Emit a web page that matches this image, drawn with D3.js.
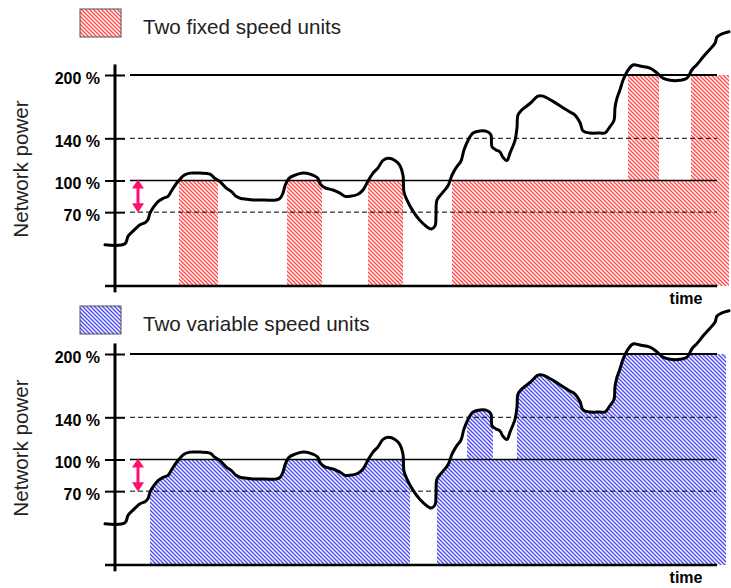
<!DOCTYPE html>
<meta charset="utf-8">
<style>
body { margin: 0; background: #fff; }
text { font-family: "Liberation Sans", Arial, sans-serif; }
.tick text { font-weight: bold; font-size: 16px; fill: #000; }
.grid-dash { stroke: #000; stroke-width: 1; stroke-dasharray: 5,3; }
.curve { fill: none; stroke: #000; stroke-width: 3; stroke-linejoin: round; stroke-linecap: round; }
.legend-text { font-size: 20.6px; fill: #222; }
.axis-title { font-size: 20.6px; fill: #222; }
.time { font-size: 16px; font-weight: bold; fill: #000; }
</style>
<svg id="chart" width="731" height="588"></svg>
<script src="https://d3js.org/d3.v7.min.js"></script>
<script>
// network demand curve (time units, % of one unit)
var curveT = [-5, 15, 18, 23, 30, 35, 38, 40, 43, 48, 53, 58, 62, 68, 74, 80, 90, 100, 105, 110,
  116, 122, 126, 131, 135, 143, 155, 166, 170, 173, 175, 179, 185, 193, 200, 208, 210, 215, 223, 230,
  235, 240, 248, 253, 258, 263, 268, 273, 278, 285, 290, 293, 294, 297, 303, 310, 317, 321, 325, 326,
  327, 333, 338, 342, 346, 351, 354, 358, 363, 370, 378, 381, 382, 386, 390, 393, 397, 400, 405, 407,
  408, 412, 420, 428, 433, 443, 453, 460, 465, 470, 473, 480, 490, 495, 500, 504, 505, 507, 510, 513,
  517, 523, 530, 540, 547, 553, 560, 570, 577, 582, 587, 593, 600, 605, 607, 612, 619];
var curveP = [39, 40, 47, 52, 58, 60, 63, 69, 74, 80, 83, 85, 91, 99, 105, 107, 107, 106, 102, 99,
  93, 89, 85, 83, 82.5, 81.5, 81.5, 81.5, 83, 88, 95, 102, 105, 107, 106, 102, 97, 93, 91, 88,
  85, 85, 87, 91, 99.5, 107, 112, 119, 121, 119, 114, 105, 89, 81.5, 71, 62, 56, 54, 57, 67,
  81.5, 89, 95, 105, 112, 118.5, 129, 138, 145, 147, 146, 143, 132, 129, 127, 122, 119, 126, 138, 150,
  162, 167, 173, 180, 180, 175, 169, 165, 162, 155, 147, 145, 145, 145, 151, 157, 169, 178, 186, 195,
  203, 209.5, 208.5, 206.5, 202, 197, 195, 195, 197, 205, 210, 217, 224.5, 230, 236, 239, 241];

var yTicks = [200, 140, 100, 70];
var solidLevels = [200, 100];
var dashedLevels = [140, 70];

// fixed speed units: on/off times
var unit1On = [69, 177, 258, 342];
var unit1Off = [108, 212, 293, 619];
var unit2On = [518, 581];
var unit2Off = [549, 619];

// variable speed units: running periods and output cap
var varStart = [40, 327, 357, 383, 407];
var varEnd = [300, 357, 383, 407, 616];
var varCap = [100, 100, 300, 100, 200];

var svg = d3.select("#chart");
var defs = svg.append("defs");

function hatch(id, color) {
  var p = defs.append("pattern")
    .attr("id", id)
    .attr("patternUnits", "userSpaceOnUse")
    .attr("width", 4).attr("height", 4);
  p.append("rect").attr("width", 4).attr("height", 4).attr("fill", "#fff");
  p.append("path")
    .attr("d", "M-1,-1L5,5M3,-1L5,1M-1,3L1,5")
    .attr("stroke", color)
    .attr("stroke-width", 1.5);
}
hatch("hatchRed", "#ff4f4f");
hatch("hatchBlue", "#5252ee");

var x = d3.scaleLinear().domain([-5, 619]).range([105, 729]);
var gridStart = 20, gridEnd = 607;
var curveData = curveT.map(function(t, i) { return {t: t, p: curveP[i]}; });

function drawPanel(off, opts) {
  var y = d3.scaleLinear().domain([0, 200]).range([286 + off, 75 + off]);
  var g = svg.append("g");

  // hatched fills
  if (opts.clip) {
    var area = d3.area()
      .x(function(d) { return x(d.t); })
      .y0(y(0))
      .y1(function(d) { return y(d.p); })
      .curve(d3.curveCatmullRom.alpha(0.5));
    defs.append("clipPath").attr("id", opts.clip)
      .append("path").datum(curveData).attr("d", area);
  }
  var fills = g.append("g");
  if (opts.clip) fills.attr("clip-path", "url(#" + opts.clip + ")");
  fills.selectAll("rect")
    .data(opts.blocks)
    .enter().append("rect")
    .attr("x", function(d) { return x(d.t0); })
    .attr("width", function(d) { return x(d.t1) - x(d.t0); })
    .attr("y", function(d) { return y(d.hi); })
    .attr("height", function(d) { return y(d.lo) - y(d.hi); })
    .attr("fill", "url(#" + opts.pattern + ")");

  // reference lines
  g.selectAll(".grid-solid")
    .data(solidLevels)
    .enter().append("line")
    .attr("class", "grid-solid")
    .attr("x1", x(gridStart)).attr("x2", x(gridEnd))
    .attr("y1", function(d) { return y(d); })
    .attr("y2", function(d) { return y(d); })
    .attr("stroke", "#000")
    .attr("stroke-width", function(d) { return d === 200 ? 2 : 1.5; });
  g.selectAll(".grid-dash")
    .data(dashedLevels)
    .enter().append("line")
    .attr("class", "grid-dash")
    .attr("x1", x(gridStart)).attr("x2", x(gridEnd))
    .attr("y1", function(d) { return y(d); })
    .attr("y2", function(d) { return y(d); });

  // axes
  var ax = g.append("g")
    .attr("transform", "translate(" + x(5) + ",0)")
    .call(d3.axisLeft(y).tickValues(yTicks).tickFormat(function(d) { return d + " %"; }).tickSize(10).tickPadding(5));
  ax.select(".domain").remove();
  ax.selectAll(".tick line").attr("x1", 10).attr("stroke-width", 2);
  ax.selectAll(".tick text").attr("dy", 8).attr("font-family", null).attr("font-size", null);
  g.append("line")
    .attr("x1", x(5)).attr("x2", x(5))
    .attr("y1", y(210)).attr("y2", y(-6))
    .attr("stroke", "#000").attr("stroke-width", 3);
  g.append("line")
    .attr("x1", x(-5)).attr("x2", x(gridEnd))
    .attr("y1", y(0)).attr("y2", y(0))
    .attr("stroke", "#000").attr("stroke-width", 2.5);

  g.append("text")
    .attr("class", "time")
    .attr("x", x(576)).attr("y", y(0) + 18)
    .attr("text-anchor", "middle")
    .text("time");
  g.append("text")
    .attr("class", "axis-title")
    .attr("text-anchor", "middle")
    .attr("transform", "translate(28," + (169 + off) + ")rotate(-90)")
    .text("Network power");

  // demand curve
  var line = d3.line()
    .x(function(d) { return x(d.t); })
    .y(function(d) { return y(d.p); })
    .curve(d3.curveCatmullRom.alpha(0.5));
  g.append("path").datum(curveData).attr("class", "curve").attr("d", line);

  // 70-100 % range arrow
  var ax0 = x(28), top = y(100), bot = y(70);
  g.append("line")
    .attr("x1", ax0).attr("x2", ax0)
    .attr("y1", top + 6).attr("y2", bot - 6)
    .attr("stroke", "#ff1070").attr("stroke-width", 3);
  g.append("path")
    .attr("d", "M" + ax0 + "," + (top - 1) + "L" + (ax0 + 6) + "," + (top + 8) + "L" + (ax0 - 6) + "," + (top + 8) + "Z" +
               "M" + ax0 + "," + (bot + 0.5) + "L" + (ax0 + 6) + "," + (bot - 9) + "L" + (ax0 - 6) + "," + (bot - 9) + "Z")
    .attr("fill", "#ff1070");

  // legend
  svg.append("rect")
    .attr("x", 80).attr("y", opts.legendY)
    .attr("width", 41).attr("height", 28)
    .attr("fill", "url(#" + opts.pattern + ")")
    .attr("stroke", "#555").attr("stroke-width", 1);
  svg.append("text")
    .attr("class", "legend-text")
    .attr("x", 143).attr("y", opts.legendY + 25)
    .text(opts.label);
}

var fixedBlocks = unit1On.map(function(t, i) { return {t0: t, t1: unit1Off[i], lo: 0, hi: 100}; })
  .concat(unit2On.map(function(t, i) { return {t0: t, t1: unit2Off[i], lo: 100, hi: 200}; }));
var varBlocks = varStart.map(function(t, i) { return {t0: t, t1: varEnd[i], lo: 0, hi: varCap[i]}; });

drawPanel(0, {blocks: fixedBlocks, pattern: "hatchRed", legendY: 9, label: "Two fixed speed units"});
drawPanel(279, {blocks: varBlocks, pattern: "hatchBlue", legendY: 306, label: "Two variable speed units", clip: "underCurve"});
</script>
